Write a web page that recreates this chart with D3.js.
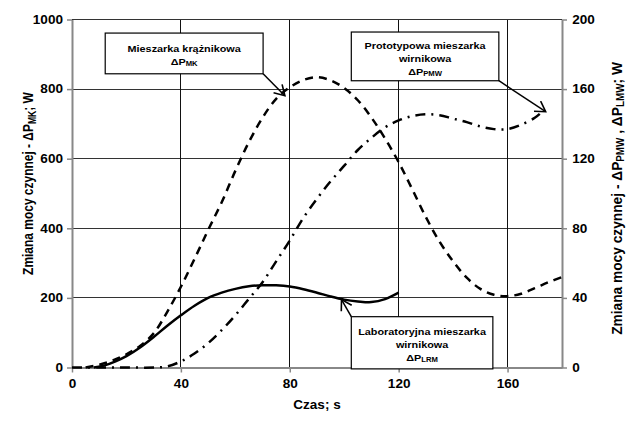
<!DOCTYPE html>
<html>
<head>
<meta charset="utf-8">
<script src="https://cdn.jsdelivr.net/npm/d3@7/dist/d3.min.js"></script>
<style>
body { margin: 0; background: #fff; }
text { font-family: "Liberation Sans", Arial, sans-serif; font-weight: bold; fill: #000; }
</style>
</head>
<body>
<svg id="chart"></svg>
<script>
// dane odczytane z wykresu
// mieszarka krążnikowa (oś lewa)
var mkTime  = [5, 10, 15, 20, 25, 30, 35, 40, 45, 50, 55, 60, 65, 70, 75, 80, 85, 90, 95, 100, 105, 110, 115, 120, 125, 130, 135, 140, 145, 150, 155, 160, 165, 170, 175, 180];
var mkPower = [0, 8, 20, 38, 62, 98, 160, 232, 312, 395, 475, 565, 648, 718, 772, 805, 826, 834, 825, 803, 768, 718, 658, 590, 512, 432, 362, 305, 258, 226, 209, 205, 212, 228, 245, 260];
// prototypowa mieszarka wirnikowa (oś prawa)
var pmwTime  = [0, 10, 20, 30, 35, 40, 45, 50, 55, 60, 65, 70, 75, 80, 85, 90, 95, 100, 105, 110, 115, 120, 125, 130, 135, 140, 145, 150, 155, 160, 165, 170, 172];
var pmwPower = [0, 0, 0, 0, 0.6, 3.5, 8, 14, 21.5, 30, 39.5, 49, 61, 73, 86, 97, 107, 116, 125, 132, 138, 142, 144.5, 145.5, 145, 143, 141, 138.5, 137, 137, 139.5, 143.5, 146];
// laboratoryjna mieszarka wirnikowa (oś prawa)
var lrmTime  = [8, 12, 16, 20, 25, 30, 35, 40, 45, 50, 55, 60, 65, 70, 75, 80, 85, 90, 95, 100, 105, 110, 115, 120];
var lrmPower = [0, 1.2, 3.5, 6.5, 11.5, 17.5, 24, 30, 35.5, 40, 43, 45.2, 46.7, 47.3, 47.2, 46.5, 45, 43, 40.8, 39, 38, 37.6, 39.3, 43];

var xTicks = [0, 40, 80, 120, 160];
var yLeftTicks = [0, 200, 400, 600, 800, 1000];
var yRightTicks = [0, 40, 80, 120, 160, 200];

var W = 626, H = 421;
var margin = {top: 19.5, right: 64, bottom: 53.5, left: 72};
var stretch = 1.13;	// tekst w oryginale jest rozciągnięty w poziomie

var svg = d3.select("#chart").attr("width", W).attr("height", H);

var x = d3.scaleLinear().domain([0, 180]).range([margin.left, W - margin.right]);
var yL = d3.scaleLinear().domain([0, 1000]).range([H - margin.bottom, margin.top]);
var yR = d3.scaleLinear().domain([0, 200]).range([H - margin.bottom, margin.top]);

// siatka
var grid = svg.append("g");
grid.selectAll(".gy").data(yLeftTicks.slice(1)).join("line")
	.attr("x1", x(0)).attr("x2", x(180))
	.attr("y1", function(d) { return yL(d); }).attr("y2", function(d) { return yL(d); })
	.attr("stroke", "#333").attr("stroke-width", 1).attr("shape-rendering", "crispEdges");
grid.selectAll(".gx").data(xTicks.slice(1)).join("line")
	.attr("x1", function(d) { return x(d); }).attr("x2", function(d) { return x(d); })
	.attr("y1", yL(0)).attr("y2", yL(1000))
	.attr("stroke", "#111").attr("stroke-width", 1).attr("shape-rendering", "crispEdges");

// osie
function styleAxis(g) {
	g.selectAll(".domain").attr("stroke", "#888").attr("stroke-width", 2);
	g.selectAll(".tick line").attr("stroke", "#888").attr("stroke-width", 1.5);
	g.selectAll("text").attr("font-size", 12).attr("fill", "#000")
		.attr("font-family", "Liberation Sans, Arial, sans-serif").attr("font-weight", "bold")
		.attr("transform", "scale(" + stretch + ",1)");
}
var fmt = d3.format("d");
svg.append("g").attr("transform", "translate(0," + yL(0) + ")")
	.call(d3.axisBottom(x).tickValues(xTicks).tickFormat(fmt).tickSize(5).tickSizeOuter(0).tickPadding(7))
	.call(styleAxis);
svg.append("g").attr("transform", "translate(" + x(0) + ",0)")
	.call(d3.axisLeft(yL).tickValues(yLeftTicks).tickFormat(fmt).tickSize(5).tickSizeOuter(0).tickPadding(3))
	.call(styleAxis);
svg.append("g").attr("transform", "translate(" + x(180) + ",0)")
	.call(d3.axisRight(yR).tickValues(yRightTicks).tickFormat(fmt).tickSize(5).tickSizeOuter(0).tickPadding(4))
	.call(styleAxis);

// krzywe
function series(t, v, y) { return t.map(function(d, i) { return [x(d), y(v[i])]; }); }
var line = d3.line().curve(d3.curveCatmullRom.alpha(0.5));

svg.append("path").attr("d", line(series(pmwTime, pmwPower, yR)))
	.attr("fill", "none").attr("stroke", "#000").attr("stroke-width", 2.5)
	.attr("stroke-dasharray", "10,6,2,6");
svg.append("path").attr("d", line(series(mkTime, mkPower, yL)))
	.attr("fill", "none").attr("stroke", "#000").attr("stroke-width", 2.5)
	.attr("stroke-dasharray", "8,6");
svg.append("path").attr("d", line(series(lrmTime, lrmPower, yR)))
	.attr("fill", "none").attr("stroke", "#000").attr("stroke-width", 2.5);

// strzałka
svg.append("defs").append("marker").attr("id", "arrow")
	.attr("markerUnits", "userSpaceOnUse").attr("markerWidth", 14).attr("markerHeight", 14)
	.attr("viewBox", "0 0 14 14").attr("refX", 12).attr("refY", 7).attr("orient", "auto")
	.append("path").attr("d", "M2,1 L12,7 L2,13").attr("fill", "none").attr("stroke", "#000").attr("stroke-width", 1.6);

// opisy krzywych: ramka [t1, v1, t2, v2] w jednostkach osi lewej, grot [t, v]
var callouts = [
	{box: [12.2, 961, 70.2, 844], from: [70.2, 844], to: [78.2, 781], lines: [["Mieszarka krążnikowa"], ["ΔP", "MK"]]},
	{box: [102.6, 964, 156.8, 824], from: [156.8, 824], to: [174, 735], lines: [["Prototypowa mieszarka"], ["wirnikowa"], ["ΔP", "PMW"]]},
	{box: [102.6, 146, 154.6, -4], from: [102.6, 146], to: [99, 195], lines: [["Laboratoryjna mieszarka"], ["wirnikowa"], ["ΔP", "LRM"]]}
];

callouts.forEach(function(c) {
	var x1 = x(c.box[0]), y1 = yL(c.box[1]), x2 = x(c.box[2]), y2 = yL(c.box[3]);
	svg.append("line")
		.attr("x1", x(c.from[0])).attr("y1", yL(c.from[1]))
		.attr("x2", x(c.to[0])).attr("y2", yL(c.to[1]))
		.attr("stroke", "#000").attr("stroke-width", 1.5).attr("marker-end", "url(#arrow)");
	svg.append("rect").attr("x", x1).attr("y", y1).attr("width", x2 - x1).attr("height", y2 - y1)
		.attr("fill", "#fff").attr("stroke", "#000").attr("stroke-width", 1.2);
	var n = c.lines.length, lh = 13;
	var cy = (y1 + y2) / 2 - (n - 1) * lh / 2 + 1.5;
	var cx = (x1 + x2) / 2;
	c.lines.forEach(function(l, i) {
		var t = svg.append("text").attr("x", 0).attr("y", 0)
			.attr("transform", "translate(" + cx + "," + (cy + i * lh) + ") scale(" + stretch + ",1)")
			.attr("text-anchor", "middle").attr("dominant-baseline", "central").attr("font-size", 9.6);
		t.append("tspan").text(l[0]);
		if (l[1]) t.append("tspan").attr("font-size", 6.8).attr("dy", 2).text(l[1]);
	});
});

// tytuły osi
svg.append("text").attr("transform", "translate(" + x(90) + ",409) scale(" + stretch + ",1)")
	.attr("text-anchor", "middle").attr("font-size", 12).text("Czas; s");

// części: [tekst, indeks dolny?]
function vTitle(cx, cy, len, parts) {
	var t = svg.append("text").attr("text-anchor", "middle")
		.attr("dominant-baseline", "central").attr("font-size", 12.5);
	var low = false;
	parts.forEach(function(p) {
		var s = t.append("tspan").text(p[0]);
		if (p[1]) { s.attr("font-size", 9); if (!low) s.attr("dy", 3); low = true; }
		else if (low) { s.attr("dy", -3); low = false; }
	});
	var k = len / t.node().getComputedTextLength();
	t.attr("transform", "translate(" + cx + "," + cy + ") rotate(-90) scale(" + k + "," + stretch + ")");
}
vTitle(28, 183.5, 183, [["Zmiana mocy czynnej - ΔP"], ["MK", true], [";  W"]]);
vTitle(617, 198.5, 273, [["Zmiana mocy czynnej - ΔP"], ["PMW", true], [" , ΔP"], ["LMW", true], [";  W"]]);
</script>
</body>
</html>
